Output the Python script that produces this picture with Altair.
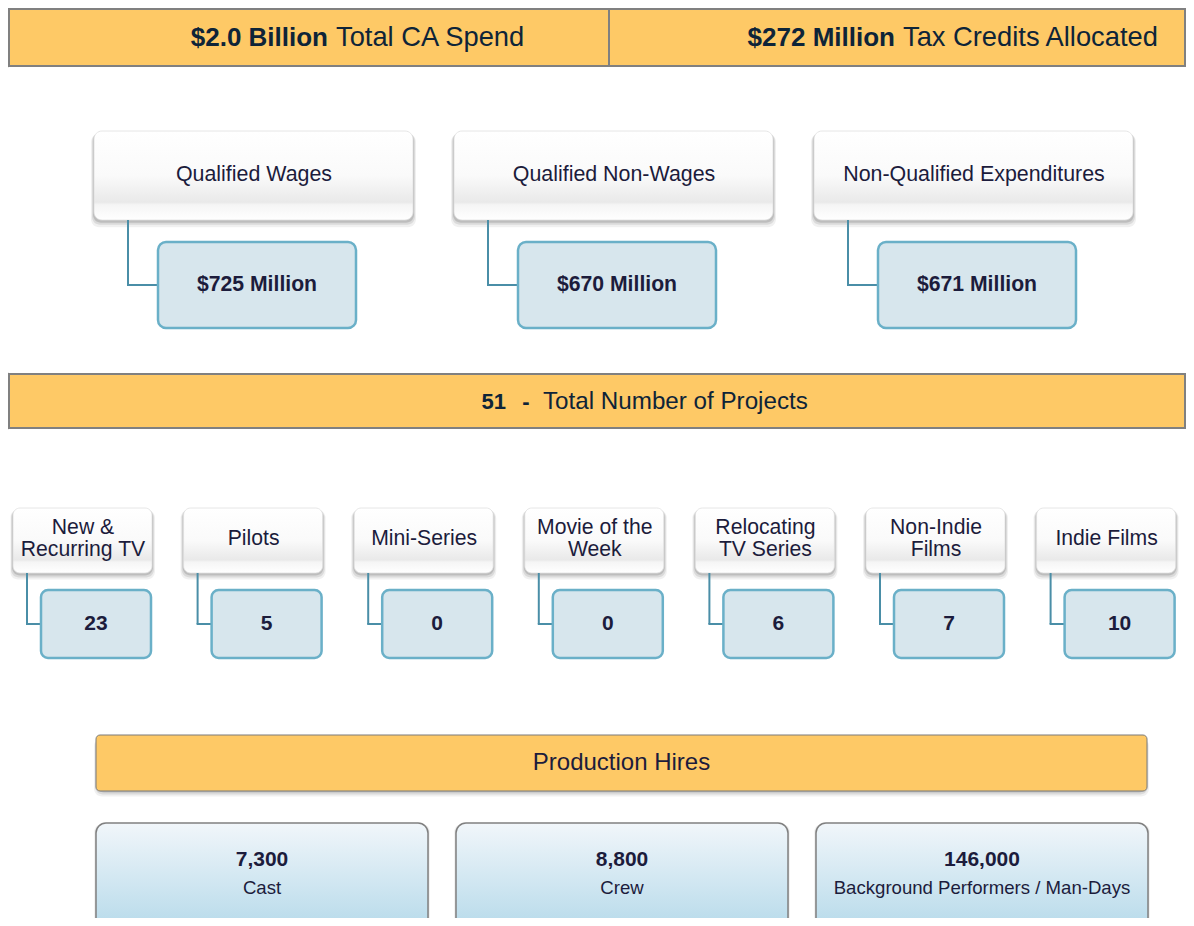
import altair as alt
import pandas as pd

# ---------------- data ----------------
headline_values = ["$2.0 Billion", "$272 Million"]
headline_labels = ["Total CA Spend", "Tax Credits Allocated"]

spend_categories = ["Qualified Wages", "Qualified Non-Wages", "Non-Qualified Expenditures"]
spend_amounts = ["$725 Million", "$670 Million", "$671 Million"]

total_projects = "51"
total_projects_label = "Total Number of Projects"

project_types = [["New &", "Recurring TV"], ["Pilots"], ["Mini-Series"],
                 ["Movie of the", "Week"], ["Relocating", "TV Series"],
                 ["Non-Indie", "Films"], ["Indie Films"]]
project_counts = [23, 5, 0, 0, 6, 7, 10]

hires_title = "Production Hires"
hire_counts = [7300, 8800, 146000]
hire_labels = ["Cast", "Crew", "Background Performers / Man-Days"]

# ---------------- layout (page pixel frame) ----------------
W, H = 1178, 910
XD = [8, 8 + W]
YD = [8, 8 + H]
FONT = "Liberation Sans"
NAVY = "#0e2438"
INK = "#1c1c3c"
YELLOW = "#fec966"
CONNECT = "#4a8ea7"

xs = alt.Scale(domain=XD, nice=False, zero=False)
ys = alt.Scale(domain=YD, nice=False, zero=False, reverse=True)


def rects(rows, **mark):
    df = pd.DataFrame(rows, columns=["x", "x2", "y", "y2"])
    return alt.Chart(df).mark_rect(**mark).encode(
        x=alt.X("x:Q", scale=xs, axis=None),
        x2="x2:Q",
        y=alt.Y("y:Q", scale=ys, axis=None),
        y2="y2:Q",
    )


def shadows(rows, layers=((3, 6, 0.06), (2, 4, 0.09), (1, 2.5, 0.13))):
    out = []
    for e, d, op in layers:
        sh = [(a - e, b + e, c - e + d, dd + e + d * 0.7) for a, b, c, dd in rows]
        out.append(rects(sh, fill="#000000", opacity=op, cornerRadius=8))
    return out


def texts(rows, size, weight="normal", color=INK, align="center"):
    df = pd.DataFrame(rows, columns=["x", "y", "t"])
    return alt.Chart(df).mark_text(font=FONT, fontSize=size, fontWeight=weight,
                                   color=color, align=align, baseline="middle").encode(
        x=alt.X("x:Q", scale=xs, axis=None),
        y=alt.Y("y:Q", scale=ys, axis=None),
        text="t:N",
    )


def hrules(rows, **mark):
    df = pd.DataFrame(rows, columns=["x", "x2", "y"])
    return alt.Chart(df).mark_rule(**mark).encode(
        x=alt.X("x:Q", scale=xs, axis=None), x2="x2:Q",
        y=alt.Y("y:Q", scale=ys, axis=None))


def vrules(rows, **mark):
    df = pd.DataFrame(rows, columns=["x", "y", "y2"])
    return alt.Chart(df).mark_rule(**mark).encode(
        x=alt.X("x:Q", scale=xs, axis=None),
        y=alt.Y("y:Q", scale=ys, axis=None), y2="y2:Q")


white_grad = {"gradient": "linear", "x1": 0, "y1": 0, "x2": 0, "y2": 1,
              "stops": [{"offset": 0, "color": "#ffffff"},
                        {"offset": 0.5, "color": "#fafafa"},
                        {"offset": 0.8, "color": "#e9e9e9"},
                        {"offset": 0.83, "color": "#f5f5f5"},
                        {"offset": 1, "color": "#ffffff"}]}
blue_grad = {"gradient": "linear", "x1": 0, "y1": 0, "x2": 0, "y2": 1,
             "stops": [{"offset": 0, "color": "#f1f6fa"},
                       {"offset": 1, "color": "#b2d8e9"}]}

layers = []

# headline bar
layers.append(rects([(9, 1185, 9, 66)], fill=YELLOW, stroke="#808080", strokeWidth=2))
layers.append(vrules([(609, 9, 66)], color="#808080", strokeWidth=2))
bold_end = [328, 895]
layers.append(texts([(bold_end[i], 38, v) for i, v in enumerate(headline_values)],
                    26, "bold", NAVY, "right"))
layers.append(texts([(bold_end[i] + 8, 38, v) for i, v in enumerate(headline_labels)],
                    27.3, "normal", NAVY, "left"))

# spend categories
sp_left = [94 + 360 * i for i in range(len(spend_categories))]
cat_boxes = [(l, l + 319, 131, 220) for l in sp_left]
layers += shadows(cat_boxes)
layers.append(rects(cat_boxes, fill=white_grad, cornerRadius=8, stroke="#e0e0e0", strokeWidth=0.8))
layers.append(texts([(l + 160, 175, c) for l, c in zip(sp_left, spend_categories)], 21.4))
layers.append(vrules([(l + 34, 220, 285) for l in sp_left], color=CONNECT, strokeWidth=2))
layers.append(hrules([(l + 33, l + 64, 285) for l in sp_left], color=CONNECT, strokeWidth=2))
layers.append(rects([(l + 64, l + 262, 242, 328) for l in sp_left],
                    fill="#d7e6ed", stroke="#6ab0c8", strokeWidth=2.5, cornerRadius=8))
layers.append(texts([(l + 163, 285, a) for l, a in zip(sp_left, spend_amounts)], 21.2, "bold"))

# total projects bar
layers.append(rects([(9, 1185, 374, 428)], fill=YELLOW, stroke="#808080", strokeWidth=2))
layers.append(texts([(506, 402, total_projects)], 22, "bold", NAVY, "right"))
layers.append(texts([(526, 402, "-")], 22, "bold", NAVY, "center"))
layers.append(texts([(543, 402, total_projects_label)], 24.2, "normal", NAVY, "left"))

# project types
pr_left = [13 + 170.6 * i for i in range(len(project_types))]
pr_boxes = [(l, l + 139, 508, 573) for l in pr_left]
layers += shadows(pr_boxes, layers=((3, 5, 0.06), (2, 3.5, 0.09), (1, 2, 0.13)))
layers.append(rects(pr_boxes, fill=white_grad, cornerRadius=7, stroke="#e0e0e0", strokeWidth=0.8))
lab_rows = []
for l, lines in zip(pr_left, project_types):
    if len(lines) == 1:
        lab_rows.append((l + 70, 539, lines[0]))
    else:
        lab_rows.append((l + 70, 528, lines[0]))
        lab_rows.append((l + 70, 550, lines[1]))
layers.append(texts(lab_rows, 21.2))
layers.append(vrules([(l + 14, 573, 624) for l in pr_left], color=CONNECT, strokeWidth=2))
layers.append(hrules([(l + 13, l + 28, 624) for l in pr_left], color=CONNECT, strokeWidth=2))
layers.append(rects([(l + 28, l + 138, 590, 658) for l in pr_left],
                    fill="#d7e6ed", stroke="#6ab0c8", strokeWidth=2.5, cornerRadius=7))
layers.append(texts([(l + 83, 624, str(c)) for l, c in zip(pr_left, project_counts)], 21, "bold"))

# production hires
hb = [(96, 1147, 735, 791)]
layers += shadows(hb, layers=((2, 5, 0.06), (1, 3.5, 0.09), (0, 2, 0.13)))
layers.append(rects(hb, fill=YELLOW, stroke="#7a7a7a", strokeWidth=1, cornerRadius=4))
layers.append(texts([(621.5, 763, hires_title)], 24, "normal", INK))

hr_left = [96 + 360 * j for j in range(len(hire_counts))]
hr_boxes = [(l, l + 332, 823, 918 + 20) for l in hr_left]
layers += shadows(hr_boxes, layers=((2, 3, 0.05), (1, 2, 0.08)))
layers.append(rects(hr_boxes, fill=blue_grad, stroke="#808080", strokeWidth=1.5, cornerRadius=10))
layers.append(texts([(l + 166, 860, f"{c:,}") for l, c in zip(hr_left, hire_counts)], 21, "bold"))
layers.append(texts([(l + 166, 888, t) for l, t in zip(hr_left, hire_labels)], 18.6))

# white margin strips at the page's left edge (between the full-width bars)
layers.append(rects([(8, 10.5, 67.5, 372.5), (8, 10.5, 429.5, 918)], fill="#ffffff"))

chart = alt.layer(*layers).properties(
    width=W, height=H, padding=0, autosize=alt.AutoSizeParams(type="none")
).configure_view(strokeWidth=0, stroke="transparent", clip=True).configure(background="white")

chart.save("out.html", embed_options={"renderer": "svg", "actions": False})
